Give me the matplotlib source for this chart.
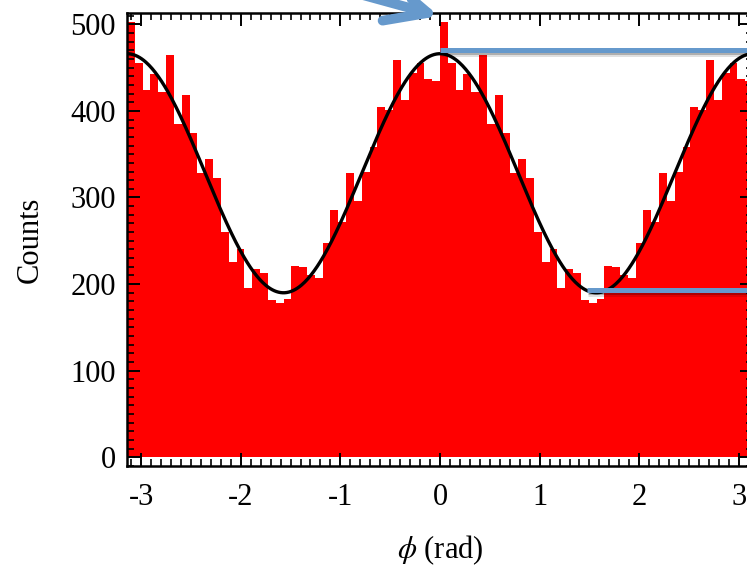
import numpy as np
import matplotlib
matplotlib.use("Agg")
import matplotlib.pyplot as plt
import matplotlib.patheffects as pe
from matplotlib.ticker import MultipleLocator

# ---- data ----
# histogram counts, 80 equal bins spanning -pi .. pi
counts = [503, 455, 424, 443, 422, 464, 385, 418, 375, 328,
          344, 323, 260, 226, 240, 195, 217, 213, 182, 178,
          183, 221, 220, 210, 207, 247, 285, 272, 328, 296,
          330, 358, 405, 401, 459, 412, 444, 455, 437, 434,
          503, 455, 424, 443, 422, 464, 385, 418, 375, 328,
          344, 323, 260, 226, 240, 195, 217, 213, 182, 178,
          183, 221, 220, 210, 207, 247, 285, 272, 328, 296,
          330, 358, 405, 401, 459, 412, 444, 455, 437, 434]
phi_min, phi_max = -np.pi, np.pi

# fitted modulation  N(phi) = offset + amplitude * cos(2 phi)
fit_offset = 328
fit_amplitude = 138

# annotation levels (blue guide lines)
max_level = 470
min_level = 193
max_line_start = 0.0
min_line_start = 1.48

x_ticks = [-3, -2, -1, 0, 1, 2, 3]
y_ticks = [0, 100, 200, 300, 400, 500]

# ---- style ----
plt.rcParams["font.family"] = ["Liberation Serif", "DejaVu Serif"]
plt.rcParams["mathtext.fontset"] = "stix"
plt.rcParams["axes.unicode_minus"] = False

W, H = 747, 572
fig = plt.figure(figsize=(W / 100, H / 100), dpi=100)
ax = fig.add_axes([127 / W, 106 / H, 626 / W, 453 / H])

edges = np.linspace(phi_min, phi_max, len(counts) + 1)
ax.bar(edges[:-1], counts, width=np.diff(edges), align="edge",
       color="#FF0000", linewidth=0, zorder=1)

phi = np.linspace(phi_min, phi_max, 600)
ax.plot(phi, fit_offset + fit_amplitude * np.cos(2 * phi),
        color="black", lw=2.4, zorder=3)

blue = "#6699CC"
shadow = [pe.SimpleLineShadow(offset=(0.3, -1.4), shadow_color="black", alpha=0.22),
          pe.SimpleLineShadow(offset=(0.5, -2.8), shadow_color="black", alpha=0.12),
          pe.Normal()]
ax.plot([max_line_start, phi_max], [max_level, max_level], color=blue, lw=3.6,
        solid_capstyle="butt", zorder=4, path_effects=shadow)
ax.plot([min_line_start, phi_max], [min_level, min_level], color=blue, lw=3.6,
        solid_capstyle="butt", zorder=4, path_effects=shadow)

ax.set_xlim(phi_min, phi_max)
ax.set_ylim(-10, 513)
ax.set_xticks(x_ticks)
ax.set_xticklabels([str(t) for t in x_ticks])
ax.set_yticks(y_ticks)
ax.set_yticklabels([str(t) for t in y_ticks])
ax.xaxis.set_minor_locator(MultipleLocator(0.1))
ax.yaxis.set_minor_locator(MultipleLocator(10))
ax.tick_params(which="both", direction="in", top=True, right=True, color="black")
ax.tick_params(which="major", length=9.5, width=1.4, labelsize=22)
ax.tick_params(axis="x", which="major", pad=12)
ax.tick_params(axis="y", which="major", pad=8)
ax.tick_params(which="minor", length=5, width=1.2)
for s in ax.spines.values():
    s.set_linewidth(1.8)
    s.set_zorder(5)

ax.set_ylabel("Counts", fontsize=22)
ax.yaxis.label.set_verticalalignment("center")
ax.yaxis.set_label_coords(-0.155, 0.5)
ax.set_xlabel(r"$\phi$ (rad)", fontsize=22)
ax.xaxis.label.set_verticalalignment("center")
ax.xaxis.set_label_coords(0.5, -0.185)

# blue arrow pointing at the phi = 0 peak
ax.annotate("", xy=(439, H - 16), xycoords="figure pixels",
            xytext=(330, H + 14), textcoords="figure pixels",
            arrowprops=dict(arrowstyle="->, head_length=3.0, head_width=1.4",
                            color=blue, lw=7, capstyle="round", joinstyle="round",
                            mutation_scale=10, shrinkA=0, shrinkB=0),
            annotation_clip=False, zorder=6)

fig.savefig("out.png", dpi=100)
